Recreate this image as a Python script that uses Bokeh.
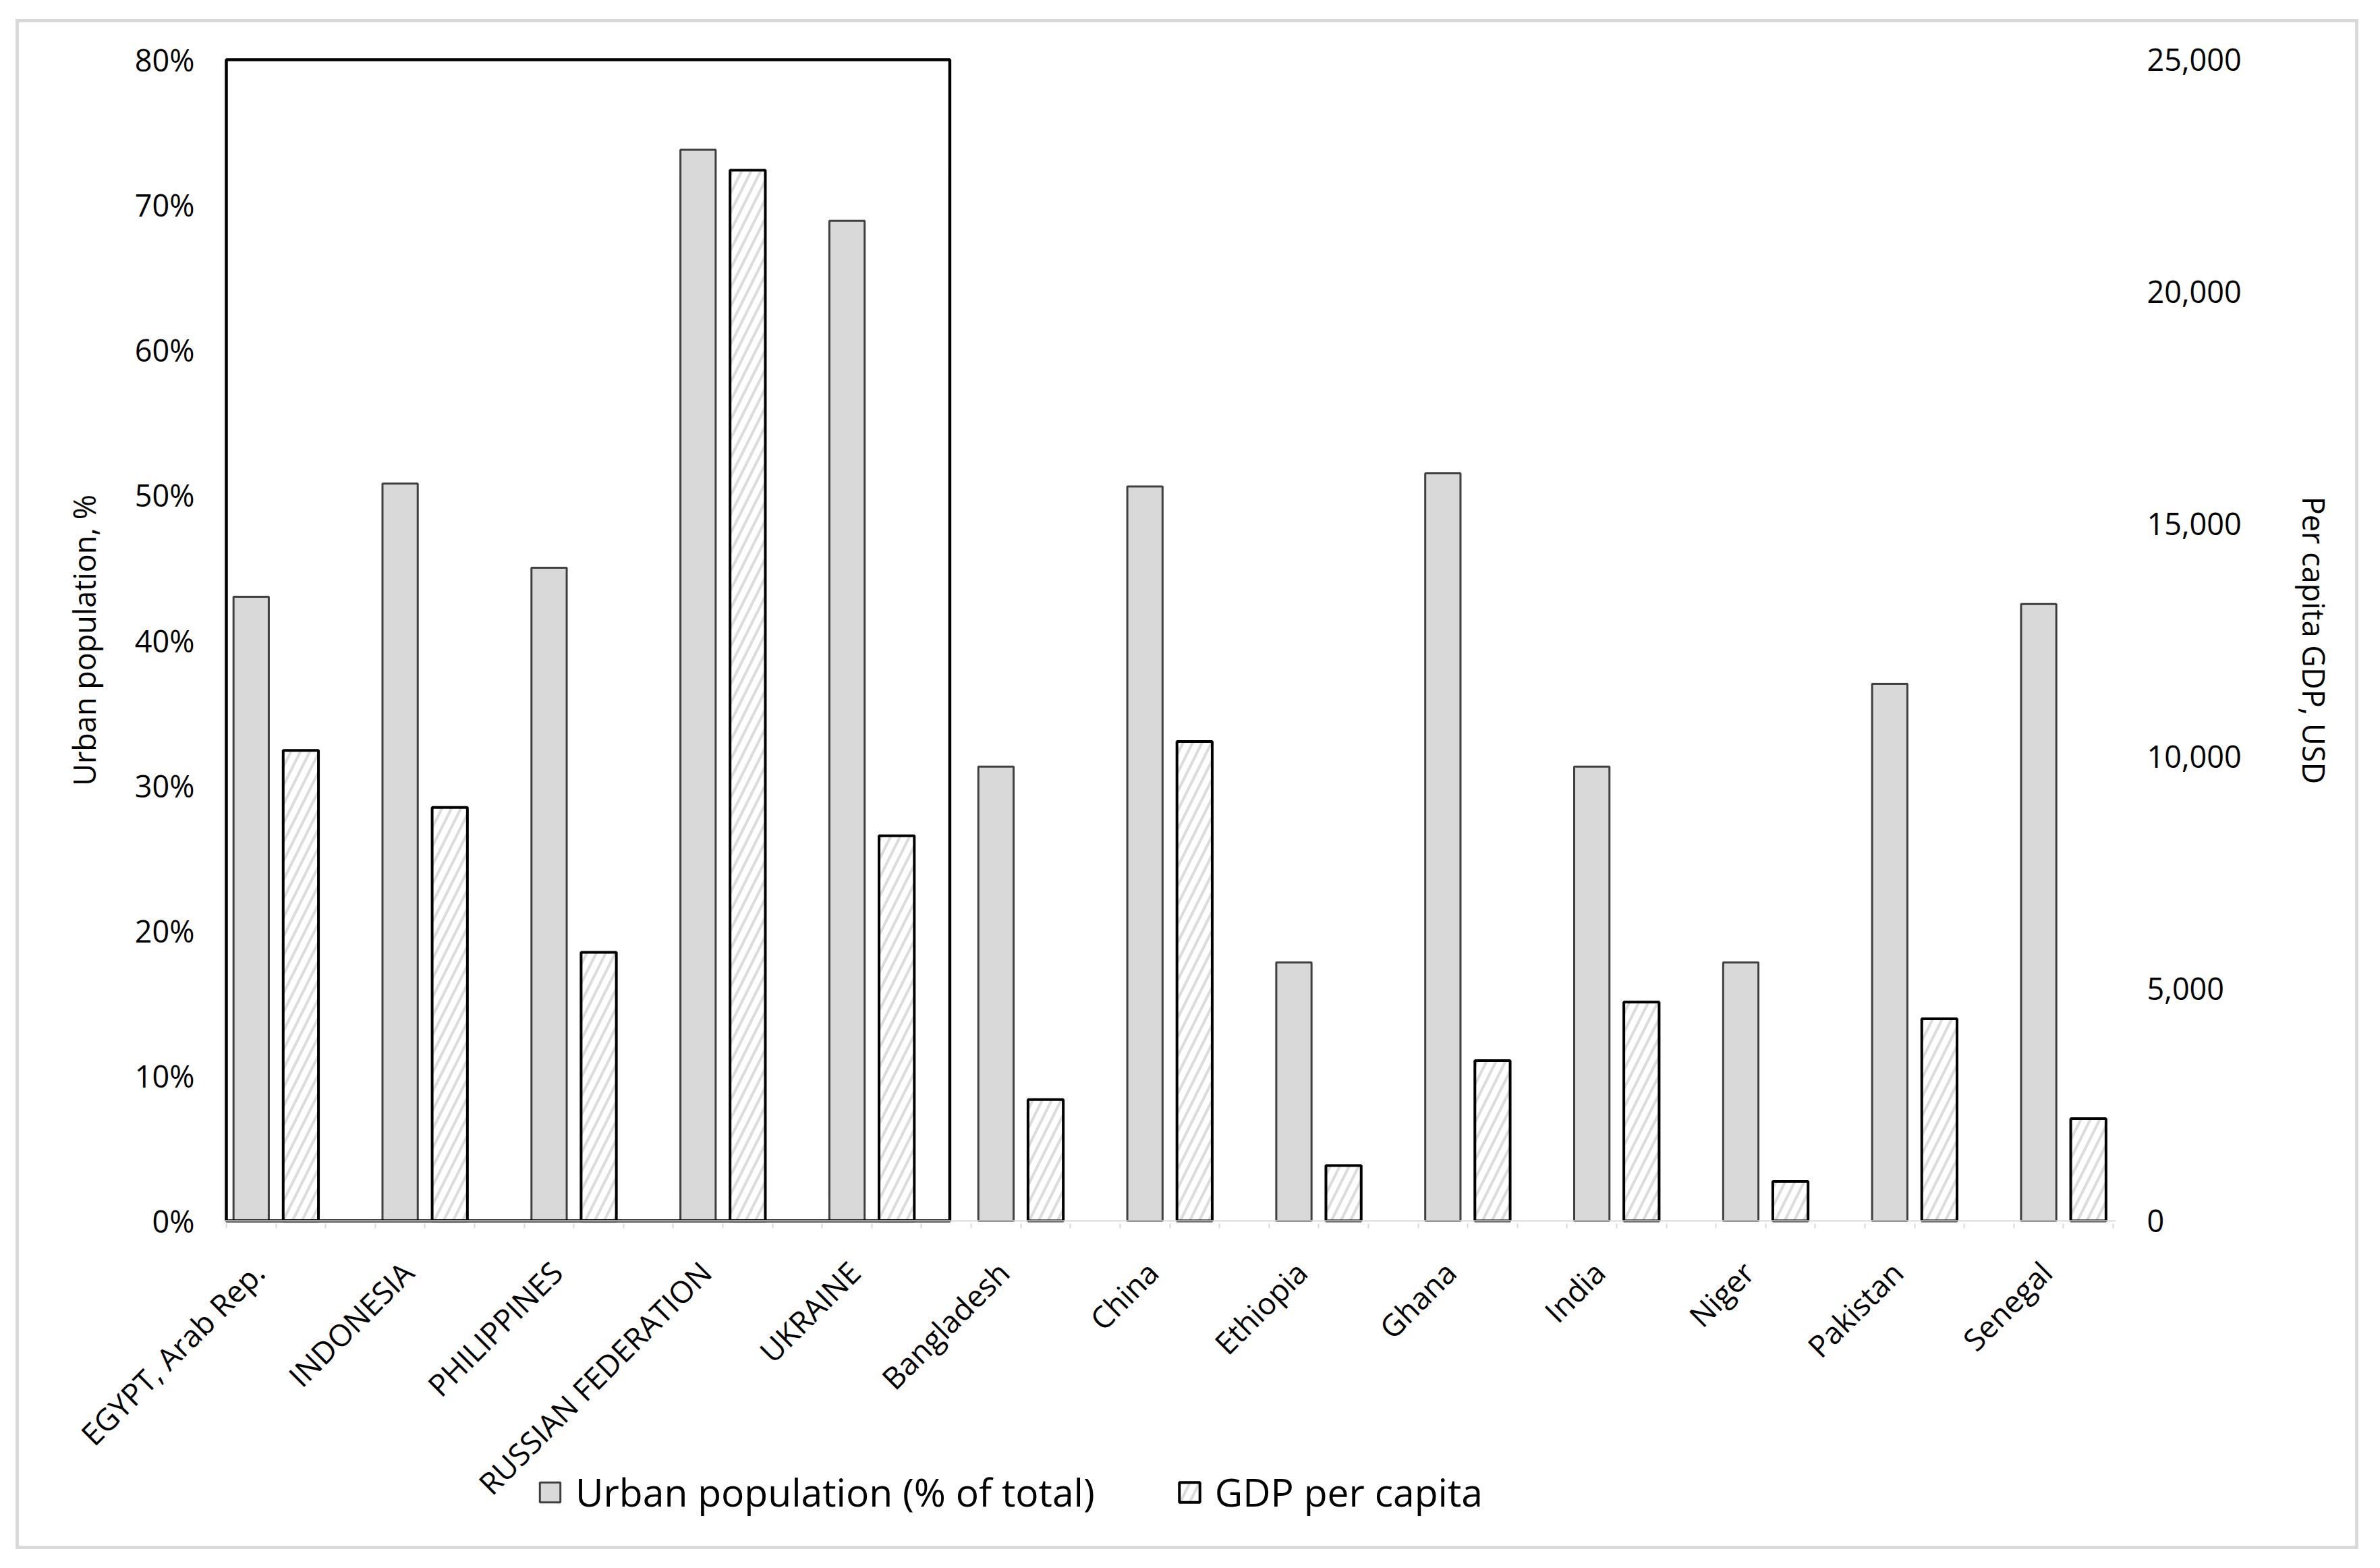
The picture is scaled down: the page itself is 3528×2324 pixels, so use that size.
import math
from bokeh.plotting import figure
from bokeh.layouts import column
from bokeh.models import (Range1d, LinearAxis, FixedTicker, NumeralTickFormatter,
                          CustomJSTickFormatter, Legend, LegendItem, ColumnDataSource, Span)
from bokeh.embed import file_html
from bokeh.resources import INLINE

countries = ["EGYPT, Arab Rep.", "INDONESIA", "PHILIPPINES", "RUSSIAN FEDERATION", "UKRAINE",
             "Bangladesh", "China", "Ethiopia", "Ghana", "India", "Niger", "Pakistan", "Senegal"]
urban_pct = [43.0, 50.8, 45.0, 73.8, 68.9, 31.3, 50.6, 17.8, 51.5, 31.3, 17.8, 37.0, 42.5]
gdp_per_capita = [10130, 8900, 5780, 22620, 8290, 2610, 10320, 1190, 3450, 4710, 850, 4350, 2200]
pct_ticks = [0.0, 0.1, 0.2, 0.3, 0.4, 0.5, 0.6, 0.7, 0.8]
gdp_ticks = [0, 5000, 10000, 15000, 20000, 25000]

FONT = "Open Sans"
n = len(countries)
src = ColumnDataSource(dict(
    gx=[3 * i + 0.5 for i in range(n)],
    hx=[3 * i + 1.5 for i in range(n)],
    urban=[u / 100.0 for u in urban_pct],
    gdp=gdp_per_capita,
))

GRAY = dict(fill_color="#d9d9d9", line_color="#404040", line_width=3)
HATCH = dict(fill_color="white", line_color="black", line_width=4,
             hatch_pattern="/", hatch_color="#dcdcdc", hatch_scale=28, hatch_weight=4)

W, H = 3528, 2324
SLOT = 73.605
padx = 4 / SLOT
pady = 0.8 * 4 / 1721
FL, FR, FT, FB = 331, 3136, 84, 1813   # frame edges (page px)
LBL = 0.65                             # label anchor offset inside a group

# ---------------- main figure ----------------
p = figure(width=W, height=H, output_backend="svg", toolbar_location=None,
           x_range=Range1d(-padx, 38 + padx), y_range=Range1d(-pady, 0.8 + pady),
           min_border_left=FL, min_border_right=W - FR,
           min_border_top=FT, min_border_bottom=H - FB)
p.extra_y_ranges = {"gdp": Range1d(-pady * 25000 / 0.8, 25000 + pady * 25000 / 0.8)}
p.xgrid.visible = False
p.ygrid.visible = False
p.outline_line_color = None
p.background_fill_color = "white"
p.border_fill_color = "white"
p.stylesheets = [":host::after { content: ''; position: absolute; left: 23px; top: 28px; "
                 "right: 32px; bottom: 28px; border: 5px solid #d9d9d9; "
                 "pointer-events: none; z-index: 100; }"]

p.add_layout(Span(location=0, dimension="width", line_color="#d9d9d9", line_width=2))

r1 = p.vbar(x="gx", top="urban", width=0.71, source=src, **GRAY)
r2 = p.vbar(x="hx", top="gdp", width=0.71, source=src, y_range_name="gdp", **HATCH)

p.quad(left=0, right=14.57, bottom=0, top=0.8, fill_color=None,
       line_color="black", line_width=4.5)

xa = p.xaxis[0]
xa.ticker = FixedTicker(ticks=[3 * i + LBL for i in range(n)], minor_ticks=list(range(39)))
xa.formatter = CustomJSTickFormatter(args=dict(names=countries, off=LBL),
                                     code="return names[Math.round((tick - off) / 3)];")
xa.major_label_orientation = math.pi / 4
xa.axis_line_color = None
xa.major_tick_line_color = None
xa.major_tick_out = 0
xa.major_tick_in = 0
xa.minor_tick_in = 0
xa.minor_tick_out = 7
xa.minor_tick_line_color = "#d9d9d9"
xa.minor_tick_line_width = 2
xa.major_label_standoff = 57
xa.major_label_text_font = FONT
xa.major_label_text_font_size = "45px"
xa.major_label_text_color = "black"

ya = p.yaxis[0]
ya.ticker = FixedTicker(ticks=pct_ticks)
ya.formatter = NumeralTickFormatter(format="0%")
ya.axis_label = "Urban population, %"
ya.axis_line_color = None
ya.major_tick_line_color = None
ya.minor_tick_line_color = None
ya.major_tick_out = 0
ya.major_label_standoff = 43
ya.axis_label_standoff = 42

ra = LinearAxis(y_range_name="gdp", ticker=FixedTicker(ticks=gdp_ticks),
                formatter=NumeralTickFormatter(format="0,0"),
                axis_label="Per capita GDP, USD")
ra.axis_line_color = None
ra.major_tick_line_color = None
ra.minor_tick_line_color = None
ra.major_tick_out = 0
ra.major_label_standoff = 46
ra.axis_label_standoff = 74
p.add_layout(ra, "right")

for ax in (ya, ra):
    ax.major_label_text_font = FONT
    ax.major_label_text_font_size = "45px"
    ax.major_label_text_color = "black"
    ax.axis_label_text_font = FONT
    ax.axis_label_text_font_size = "45px"
    ax.axis_label_text_font_style = "normal"
    ax.axis_label_text_color = "black"

# ---------------- legend strip (overlaps the bottom of the main figure) ----------------
LEG_TOP, LEG_H = 2150, 150
p2 = figure(width=W, height=LEG_H, output_backend="svg", toolbar_location=None,
            x_range=Range1d(1000, 1001), y_range=Range1d(1000, 1001),
            min_border_left=FL, min_border_right=W - FR,
            min_border_top=0, min_border_bottom=0,
            margin=(LEG_TOP - H, 0, 0, 0))
p2.axis.visible = False
p2.xgrid.visible = False
p2.ygrid.visible = False
p2.outline_line_color = None
p2.background_fill_alpha = 0
p2.border_fill_alpha = 0

# legend proxies: same data and styles, not drawn themselves
d1 = p2.vbar(x="gx", top="urban", width=0.71, source=src, **GRAY)
d2 = p2.vbar(x="hx", top="urban", width=0.71, source=src, **HATCH)
d1.visible = False
d2.visible = False

legend = Legend(items=[LegendItem(label="Urban population (% of total)", renderers=[d1]),
                       LegendItem(label="GDP per capita", renderers=[d2])],
                location=(796 - FL, 50), orientation="horizontal",
                padding=0, margin=0, spacing=121,
                border_line_color=None, background_fill_alpha=0,
                glyph_width=38, glyph_height=37, label_standoff=19,
                label_text_font=FONT, label_text_font_size="57px",
                label_text_color="black", label_height=37)
p2.add_layout(legend)

layout = column(p, p2, spacing=0)
open("out.html", "w").write(file_html(layout, INLINE))
